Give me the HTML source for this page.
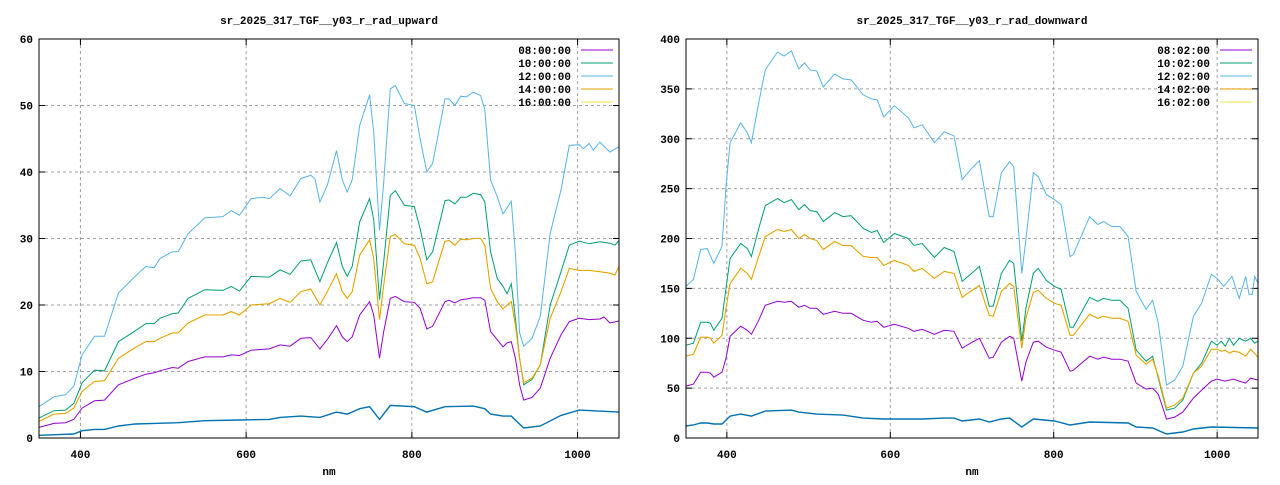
<!DOCTYPE html>
<html><head><meta charset="utf-8"><style>
html,body{margin:0;padding:0;background:#fff}
svg text{font-family:"Liberation Mono","DejaVu Sans Mono",monospace;font-size:11px;font-weight:bold;fill:#000}
</style></head><body>
<svg id="s" width="1280" height="480" xmlns="http://www.w3.org/2000/svg"></svg>
<script>
const S=document.getElementById('s');let h='';
function plot(cfg){
 const {x0,x1,y0,y1,ymax,ystep,title,labels,series}=cfg;
 const X=v=>x0+(v-350)*(x1-x0)/700, Y=v=>y1-(v)*(y1-y0)/ymax;
 h+=`<text x="${(x0+x1)/2}" y="24" text-anchor="middle">${title}</text>`;
 for(let v=0;v<=ymax;v+=ystep){const y=Y(v);
  if(v>0&&v<ymax)h+=`<line x1="${x0}" x2="${x1}" y1="${y}" y2="${y}" stroke="#a0a0a0" stroke-dasharray="3,3"/>`;
  h+=`<line x1="${x0}" x2="${x0+6}" y1="${y}" y2="${y}" stroke="#000"/><line x1="${x1-6}" x2="${x1}" y1="${y}" y2="${y}" stroke="#000"/>`;
  h+=`<text x="${x0-6}" y="${y+4}" text-anchor="end">${v}</text>`;}
 for(let v=400;v<=1000;v+=200){const x=X(v);
  h+=`<line x1="${x}" x2="${x}" y1="${y0}" y2="${y1}" stroke="#a0a0a0" stroke-dasharray="3,3"/>`;
  h+=`<line x1="${x}" x2="${x}" y1="${y1-6}" y2="${y1}" stroke="#000"/><line x1="${x}" x2="${x}" y1="${y0}" y2="${y0+6}" stroke="#000"/>`;
  h+=`<text x="${x}" y="${y1+20}" text-anchor="middle">${v}</text>`;}
 h+=`<text x="${(x0+x1)/2}" y="${y1+37}" text-anchor="middle">nm</text>`;
 const cols=['#9400d3','#009e73','#56b4e9','#e69f00','#f0e442'];
 labels.forEach((l,i)=>{const y=y0+11+i*13;
  h+=`<text x="${x1-48}" y="${y+4}" text-anchor="end">${l}</text><line x1="${x1-38}" x2="${x1-6}" y1="${y}" y2="${y}" stroke="${cols[i]}"/>`;});
 series.forEach(([c,d])=>{let p=[];for(let i=0;i<d.length;i+=2)p.push(X(d[i]).toFixed(1)+','+Y(d[i+1]).toFixed(1));
  h+=`<polyline fill="none" stroke="${c}" stroke-width="${c=='#0072b2'?1.4:1}" points="${p.join(' ')}"/>`;});
 h+=`<rect x="${x0}" y="${y0}" width="${x1-x0}" height="${y1-y0}" fill="none" stroke="#000"/>`;
}
const L_lb=[350,4.7,368,6.2,382,6.5,392,7.8,402,12.5,417,15.3,429,15.3,446,21.8,466,24.3,479,25.8,489,25.6,496,27,511,28,518,28,530,30.7,550,33.1,572,33.3,582,34.2,592,33.5,606,36,621,36.2,628,36,641,37.5,653,36.4,666,39,678,39.5,683,39,689,35.5,698,38,709,43.2,716,38.8,722,37,728,38.8,737,47,749,51.6,754,46,761,31.2,766,38.4,774,52.5,780,53,791,50.3,803,50,810,45,818,40,825,41.3,840,51,845,51,852,50,859,51.4,866,51.3,874,52,883,51.5,888,49.4,895,38.8,903,36.3,910,33.7,920,35.6,925,27.8,930,15.8,935,13.8,945,15,955,18.3,967,30.8,980,37.3,990,44,1002,44.1,1007,43.5,1014,44.3,1019,43.3,1027,44.5,1039,43,1050,43.8];
const L_g=[350,3,368,4.1,382,4.2,392,5.2,402,8.3,417,10.2,429,10.1,446,14.5,466,16.1,479,17.2,489,17.2,496,18,511,18.7,518,18.8,530,21,550,22.3,572,22.2,582,22.8,592,22.1,606,24.3,628,24.2,641,25.3,653,24.6,666,26.6,678,26.8,689,23.5,698,26.3,709,29.4,716,25.8,722,24.3,728,25.8,737,32.5,749,36,754,32.8,761,20.8,766,26.5,774,36.5,780,37.2,791,35,803,34.8,810,31.5,818,26.8,825,28,840,35.7,845,35.8,852,35.2,859,36.2,866,36.2,874,36.8,883,36.6,888,35.5,895,28,903,24,910,22.8,915,21.7,920,23.2,925,18,930,12,935,8,945,8.8,955,11,967,20,980,25,990,29,1002,29.6,1014,29.2,1027,29.5,1039,29.3,1045,29,1050,29.7];
const L_o=[350,2.5,368,3.6,382,3.7,392,4.5,402,7,417,8.5,429,8.6,446,12,466,13.6,479,14.5,489,14.5,496,15,511,15.8,518,15.8,530,17.3,550,18.5,572,18.5,582,19,592,18.5,606,20,628,20.2,641,21,653,20.4,666,22,678,22.4,689,20,698,22,709,24.7,716,22,722,21,728,22,737,27.5,749,29.8,754,27,761,17.8,766,23,774,30.3,780,30.6,791,29.2,803,29,810,27,818,23.2,825,23.5,840,29.6,845,29.7,852,29,859,29.9,866,29.8,874,30,883,30,888,29,895,22.5,903,20.5,910,19.4,915,20,920,20.5,925,17,930,12,935,8.3,945,9,955,11,967,18,980,22,990,25.5,1002,25.2,1014,25.2,1027,25,1039,24.8,1045,24.5,1050,25.8];
const L_p=[350,1.6,368,2.2,382,2.3,392,2.8,402,4.5,417,5.6,429,5.7,446,8,466,9,479,9.6,489,9.8,496,10.1,511,10.6,518,10.5,530,11.5,550,12.2,572,12.2,582,12.5,592,12.4,606,13.2,628,13.4,641,14,653,13.8,666,15,678,15.1,689,13.4,698,14.8,709,16.9,716,15.2,722,14.5,728,15.2,737,18.5,749,20.5,754,18.5,761,12,766,16,774,21,780,21.3,791,20.5,803,20.4,810,19.5,818,16.4,825,16.8,840,20.5,845,20.7,852,20.3,859,20.8,866,20.9,874,21.1,883,21.1,888,20.7,895,16,903,14.8,910,13.7,915,14.3,920,14.5,925,12,930,8,935,5.7,945,6.1,955,7.5,967,12,980,15.5,990,17.5,1002,18,1014,17.8,1027,17.9,1032,18.2,1039,17.3,1050,17.6];
const L_b=[350,0.4,370,0.5,392,0.6,402,1.1,417,1.3,429,1.3,446,1.8,466,2.1,489,2.2,518,2.3,550,2.6,592,2.7,628,2.8,641,3.1,666,3.3,689,3.1,709,3.9,722,3.6,737,4.4,749,4.7,761,2.8,774,4.9,803,4.7,818,3.9,840,4.7,874,4.8,888,4.4,895,3.6,910,3.3,920,3.3,935,1.5,955,1.8,980,3.4,1002,4.2,1050,3.9];
const R_lb=[350,152,359,159,368,189,376,190,384,175,394,192,399,252,404,296,417,316,425,306,430,296,439,336,447,369,462,387,470,383,479,388,488,370,495,376,502,369,510,368,518,352,532,365,542,360,552,359,567,344,577,340,584,339,592,322,605,333,622,321,629,311,639,314,654,296,666,307,678,303,688,259,698,269,709,278,721,222,726,222,736,266,746,277,751,272,761,165,766,199,775,266,781,262,791,244,801,239,809,234,820,182,824,184,844,222,854,214,861,217,871,212,881,212,891,202,901,147,913,129,921,138,928,115,938,53,948,58,958,72,971,122,981,135,993,164,1000,160,1008,152,1018,162,1027,140,1035,162,1039,144,1043,144,1046,162,1050,155];
const R_g=[350,93,359,95,368,116,376,116,380,115,384,108,394,120,399,150,404,180,417,195,425,190,430,182,439,210,447,233,462,240,470,236,479,239,488,229,495,234,502,228,510,227,518,217,532,226,542,222,552,223,567,210,577,206,584,208,592,196,605,205,622,200,629,193,639,195,654,181,666,191,678,187,688,157,698,164,709,172,721,132,726,132,736,165,746,178,751,175,761,97,766,130,775,165,781,170,791,158,801,152,809,149,820,111,824,111,844,141,854,137,861,140,871,138,881,138,891,130,901,88,913,77,921,82,928,60,938,28,948,30,958,38,971,65,981,75,993,97,1000,93,1005,97,1010,92,1015,100,1020,93,1027,100,1035,97,1041,100,1046,95,1050,97];
const R_o=[350,82,359,84,368,101,376,101,380,100,384,95,394,103,399,130,404,155,417,170,425,165,430,159,439,182,447,202,462,209,470,207,479,209,488,200,495,204,502,200,510,198,518,189,532,197,542,193,552,193,567,182,577,181,584,181,592,173,605,178,622,173,629,167,639,170,654,160,666,167,678,165,688,141,698,147,709,153,721,123,726,122,736,147,746,155,751,152,761,90,766,120,775,146,781,148,791,140,801,135,809,133,820,103,824,103,844,124,854,120,861,122,871,120,881,120,891,117,901,83,913,74,921,79,928,62,938,30,948,33,958,40,971,65,981,72,993,89,1000,89,1005,87,1010,88,1015,85,1020,87,1027,86,1035,82,1041,89,1050,81];
const R_p=[350,52,359,54,368,66,376,66,380,65,384,61,394,66,399,80,404,102,417,112,425,108,430,104,439,118,447,133,462,137,470,136,479,137,488,131,495,133,502,130,510,130,518,124,532,127,542,125,552,125,567,118,577,116,584,117,592,111,605,114,622,110,629,107,639,109,654,104,666,108,678,107,688,90,698,95,709,100,721,80,726,81,736,96,746,102,751,100,761,57,766,76,775,96,781,97,791,91,801,88,809,86,820,67,824,68,844,82,854,79,861,81,871,79,881,79,891,77,901,55,913,49,921,50,928,44,938,19,948,21,958,26,971,40,981,48,993,57,1000,59,1010,57,1020,59,1027,57,1035,55,1041,60,1050,58];
const R_b=[350,12,359,13,368,15,376,15,384,14,394,14,404,22,417,24,430,22,447,27,479,28,488,26,510,24,542,23,567,20,592,19,639,19,666,20,678,20,688,17,709,19,721,16,736,19,746,20,761,11,775,19,801,17,820,13,844,16,891,15,901,11,921,10,938,4,958,6,971,9,993,11,1050,10];
plot({x0:39,x1:619,y0:39,y1:438,ymax:60,ystep:10,title:'sr_2025_317_TGF__y03_r_rad_upward',labels:['08:00:00','10:00:00','12:00:00','14:00:00','16:00:00'],
 series:[['#9400d3',L_p],['#009e73',L_g],['#56b4e9',L_lb],['#f0e442',L_o],['#e69f00',L_o],['#0072b2',L_b]]});
plot({x0:686,x1:1258,y0:39,y1:438,ymax:400,ystep:50,title:'sr_2025_317_TGF__y03_r_rad_downward',labels:['08:02:00','10:02:00','12:02:00','14:02:00','16:02:00'],
 series:[['#9400d3',R_p],['#009e73',R_g],['#56b4e9',R_lb],['#f0e442',R_o],['#e69f00',R_o],['#0072b2',R_b]]});
S.innerHTML=h;
</script>
</body></html>
